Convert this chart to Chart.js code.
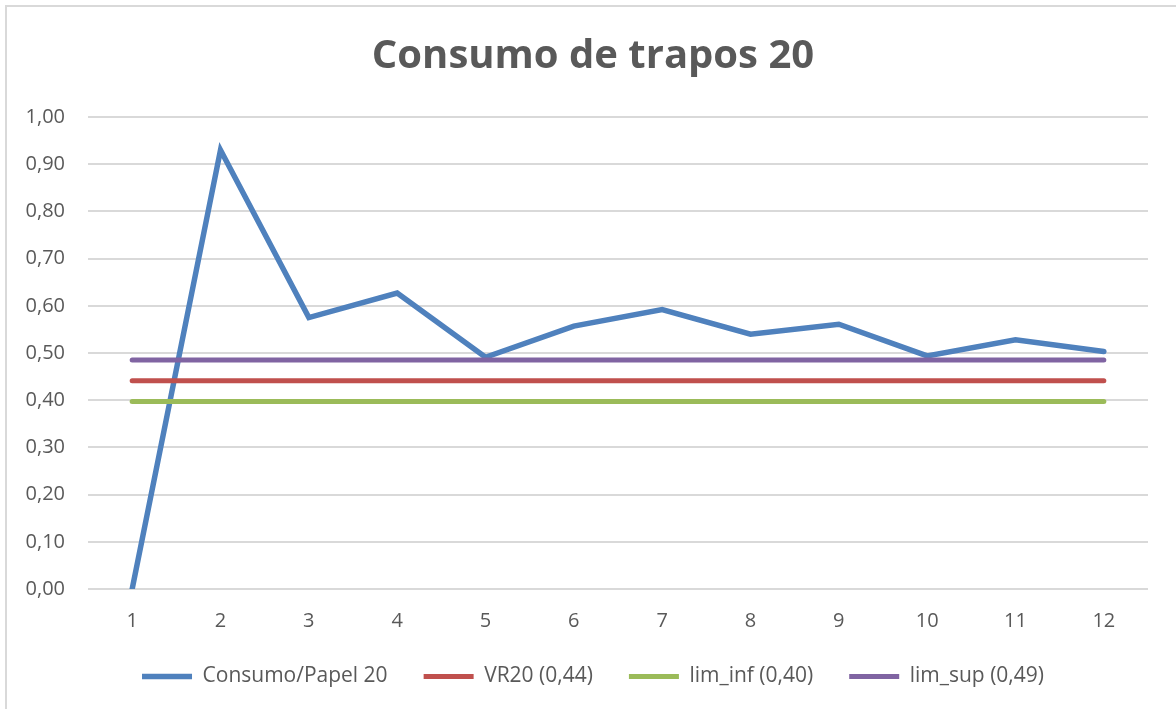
<!DOCTYPE html>
<html>
<head>
<meta charset="utf-8">
<script src="https://cdn.jsdelivr.net/npm/chart.js@4.4.1/dist/chart.umd.min.js"></script>
<style>
  html, body { margin: 0; padding: 0; background: #fff; }
  #wrap { position: relative; width: 1176px; height: 709px; overflow: hidden; }
  #frame { position: absolute; left: 5px; top: 5px; width: 1400px; height: 900px; border: 2px solid #d9d9d9; box-sizing: border-box; }
  canvas { position: absolute; left: 0; top: 0; }
</style>
</head>
<body>
<div id="wrap">
  <div id="frame"></div>
  <canvas id="c" width="1176" height="709"></canvas>
</div>
<script>
const categories = ['1','2','3','4','5','6','7','8','9','10','11','12'];
const consumo = [0, 0.930, 0.575, 0.627, 0.491, 0.557, 0.592, 0.540, 0.561, 0.494, 0.528, 0.503];
const vr20 = [0.441, 0.441, 0.441, 0.441, 0.441, 0.441, 0.441, 0.441, 0.441, 0.441, 0.441, 0.441];
const limInf = [0.397, 0.397, 0.397, 0.397, 0.397, 0.397, 0.397, 0.397, 0.397, 0.397, 0.397, 0.397];
const limSup = [0.485, 0.485, 0.485, 0.485, 0.485, 0.485, 0.485, 0.485, 0.485, 0.485, 0.485, 0.485];
const seriesNames = ['Consumo/Papel 20', 'VR20 (0,44)', 'lim_inf (0,40)', 'lim_sup (0,49)'];
const yTicks = { min: 0, max: 1, step: 0.1 };

const FONT = "'Open Sans', sans-serif";
const TXT = '#595959';

function ds(label, data, color, order, width) {
  return {
    label, data, borderColor: color, backgroundColor: color,
    borderWidth: width, pointRadius: 0, pointHoverRadius: 0, tension: 0,
    borderCapStyle: 'round', borderJoinStyle: 'miter', fill: false, order
  };
}

new Chart(document.getElementById('c'), {
  type: 'line',
  data: {
    labels: categories,
    datasets: [
      ds(seriesNames[0], consumo, '#4F81BD', 4, 5.5),
      ds(seriesNames[1], vr20, '#C0504D', 3, 5),
      ds(seriesNames[2], limInf, '#9BBB59', 2, 5),
      ds(seriesNames[3], limSup, '#8064A2', 1, 5)
    ]
  },
  options: {
    responsive: false,
    animation: false,
    devicePixelRatio: 1,
    layout: { padding: { left: 20, right: 10, top: 0, bottom: 12 } },
    plugins: {
      tooltip: { enabled: false },
      title: {
        display: true,
        text: 'Consumo de trapos 20',
        color: TXT,
        font: { family: FONT, size: 40, weight: 'bold' },
        padding: { top: 33, bottom: 36 }
      },
      legend: {
        position: 'bottom',
        labels: {
          usePointStyle: true,
          pointStyle: 'line',
          pointStyleWidth: 50,
          boxHeight: 20,
          padding: 36,
          color: TXT,
          font: { family: FONT, size: 21 },
          sort: (a, b) => a.datasetIndex - b.datasetIndex
        }
      }
    },
    scales: {
      x: {
        offset: true,
        afterFit: s => { s.height = 41; },
        grid: { display: false, drawTicks: false },
        border: { display: false },
        ticks: { color: TXT, font: { family: FONT, size: 20 }, padding: 20 }
      },
      y: {
        min: yTicks.min, max: yTicks.max,
        afterFit: s => { s.width = 68; },
        grid: { color: '#d9d9d9', lineWidth: 2, drawTicks: false },
        border: { display: false },
        ticks: {
          stepSize: yTicks.step,
          padding: 23,
          color: TXT,
          font: { family: FONT, size: 20 },
          callback: v => v.toFixed(2).replace('.', ',')
        }
      },
      y2: {
        type: 'linear',
        position: 'right',
        afterFit: s => { s.width = 18; },
        grid: { display: false, drawTicks: false },
        border: { display: false },
        ticks: { display: false }
      }
    }
  }
});
</script>
</body>
</html>
